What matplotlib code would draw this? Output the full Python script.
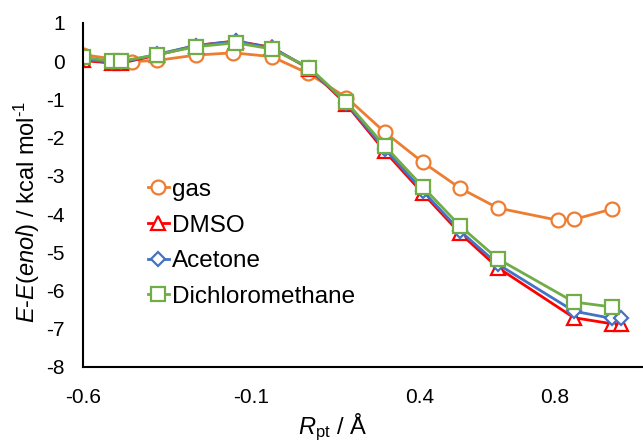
import matplotlib
matplotlib.use('Agg')
import matplotlib.pyplot as plt

plt.rcParams['font.family'] = 'Liberation Sans'
plt.rcParams['mathtext.fontset'] = 'custom'
plt.rcParams['mathtext.rm'] = 'Liberation Sans'
plt.rcParams['mathtext.it'] = 'Liberation Sans:italic'
plt.rcParams['axes.unicode_minus'] = False

# data
gas_x = [-0.6, -0.453, -0.38, -0.265, -0.154, -0.04, 0.069, 0.182, 0.296,
         0.408, 0.519, 0.631, 0.809, 0.857, 0.969]
gas_y = [0.17, -0.01, 0.02, 0.16, 0.22, 0.12, -0.32, -0.95, -1.86,
         -2.64, -3.32, -3.84, -4.16, -4.14, -3.87]

solv_x = [-0.6, -0.515, -0.487, -0.38, -0.265, -0.147, -0.039, 0.072, 0.182,
          0.296, 0.408, 0.519, 0.631, 0.857, 0.97, 0.998]
dmso_y = [0.02, -0.05, -0.05, 0.16, 0.41, 0.53, 0.36, -0.2, -1.13,
          -2.36, -3.45, -4.5, -5.4, -6.71, -6.87, -6.87]
acetone_y = [0.05, -0.03, -0.03, 0.18, 0.41, 0.52, 0.35, -0.19, -1.1,
             -2.3, -3.39, -4.44, -5.31, -6.54, -6.73, -6.73]
dcm_x = solv_x[:15]
dcm_y = [0.1, 0.0, 0.0, 0.17, 0.38, 0.48, 0.32, -0.17, -1.07,
         -2.22, -3.28, -4.31, -5.17, -6.3, -6.43]

xticks = [-0.6, -0.1, 0.4, 0.8]
xticklabels = ['-0.6', '-0.1', '0.4', '0.8']
yticks = list(range(-8, 2))

fig = plt.figure(figsize=(6.43, 4.43), dpi=100)
ax = fig.add_axes([0.129, 0.1716, 0.871, 0.7765])

common = dict(lw=2, markerfacecolor='white', markeredgewidth=1.6)
ax.plot(gas_x, gas_y, marker='o', ms=10, color='#ED7D31', label='gas', **common)
ax.plot(solv_x, dmso_y, marker='^', ms=10, color='#FF0000', label='DMSO', **common)
ax.plot(solv_x, acetone_y, marker='D', ms=7.5, color='#4472C4', label='Acetone', **common)
ax.plot(dcm_x, dcm_y, marker='s', ms=9.5, color='#70AD47', label='Dichloromethane', **common)

ax.set_xlim(-0.6, 1.062)
ax.set_ylim(-8, 1)
ax.set_xticks(xticks)
ax.set_xticklabels(xticklabels)
ax.set_yticks(yticks)
ax.tick_params(length=0, labelsize=15)
ax.tick_params(axis='x', pad=15)
ax.tick_params(axis='y', pad=13)

for s in ['top', 'right']:
    ax.spines[s].set_visible(False)
for s in ['left', 'bottom']:
    ax.spines[s].set_linewidth(1.5)
    ax.spines[s].set_color('black')

ax.set_xlabel(r'$R_{\rm pt}$ / Å', fontsize=17)
ax.xaxis.set_label_coords(0.446, -0.13)
ax.set_ylabel(r'$\mathit{E}$-$\mathit{E(enol)}$ / kcal mol$^{\text{-}1}$', fontsize=17)
ax.yaxis.set_label_coords(-0.073, 0.45)

ax.legend(loc='upper left', bbox_to_anchor=(0.098, 0.575), frameon=False,
          fontsize=17.5, handlelength=0.9, handletextpad=0.1, labelspacing=0.56,
          borderaxespad=0)

fig.savefig('out.png', dpi=100)
